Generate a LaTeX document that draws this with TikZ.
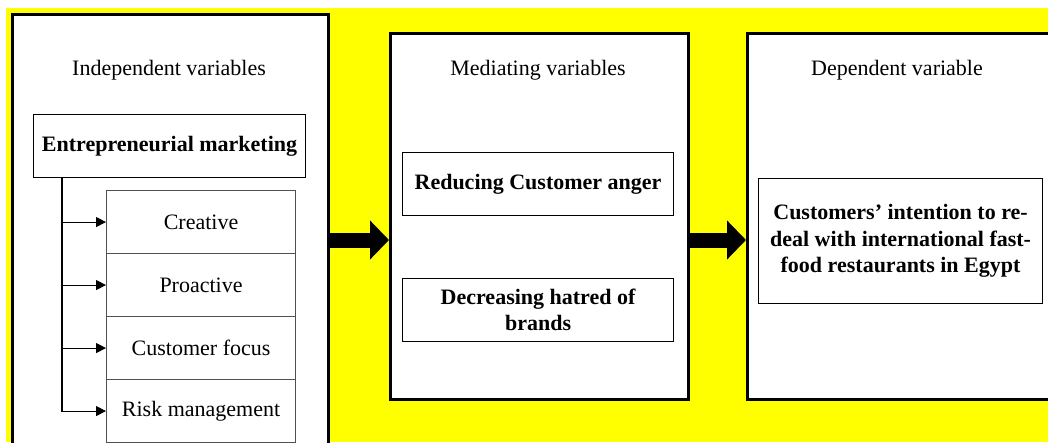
\documentclass[tikz,border=0pt]{standalone}
\usepackage{fontspec}
\setmainfont{Liberation Serif}
\usetikzlibrary{arrows.meta}
\definecolor{bgyellow}{RGB}{255,255,0}
\definecolor{subgray}{RGB}{80,80,80}
\begin{document}
\begin{tikzpicture}[x=1pt,y=-1pt,
  font=\fontsize{22}{26.5}\selectfont,
  outer/.style={draw=black,line width=3pt,fill=white,anchor=north west,inner sep=0pt},
  inbox/.style={draw=black,line width=1.1pt,fill=white,anchor=north west,inner sep=0pt,align=center,font=\fontsize{22}{26.5}\selectfont\bfseries},
  subbox/.style={draw=subgray,line width=1.1pt,fill=white,anchor=north west,inner sep=0pt,minimum width=189pt,minimum height=63pt},
  title/.style={inner sep=0pt},
  conn/.style={draw=black,line width=1.1pt},
  arr/.style={conn,-{Triangle[length=10pt,width=10pt]}},
  block/.style={draw=black,line width=15pt,-{Triangle[length=19pt,width=38pt]}}
]
\useasboundingbox (0,0) rectangle (1048,442);
\clip (0,0) rectangle (1048,442);
\fill[white] (0,0) rectangle (1048,442);
\fill[bgyellow] (6,8) rectangle (1048,442);

% outer panels
\node[outer,minimum width=316pt,minimum height=460pt] (indep) at (11,13) {};
\node[outer,minimum width=298pt,minimum height=366pt] (medi) at (389,32) {};
\node[outer,minimum width=304pt,minimum height=366pt] (dep) at (746,32) {};

% titles
\node[title] (t1) at (169,70) {Independent variables};
\node[title] (t2) at (538,70) {Mediating variables};
\node[title] (t3) at (897,70) {Dependent variable};

% independent
\node[inbox,minimum width=272pt,minimum height=63pt] (em) at (33,114) {Entrepreneurial marketing};
\node[subbox] (s1) at (106,190) {Creative};
\node[subbox] (s2) at (106,253) {Proactive};
\node[subbox] (s3) at (106,316) {Customer focus};
\node[subbox] (s4) at (106,379) {Risk management};

% mediating
\node[inbox,minimum width=271pt,minimum height=63pt] (m1) at (402,152) {Reducing Customer anger};
\node[inbox,minimum width=271pt,minimum height=63pt] (m2) at (402,278) {Decreasing hatred of\\brands};

% dependent
\node[inbox,minimum width=284pt,minimum height=125pt] (d1) at (758,178) {Customers’ intention to re-\\deal with international fast-\\food restaurants in Egypt};

% connectors
\coordinate (trunk) at ([xshift=29pt]em.south west);
\draw[arr] (trunk) |- (s4.west);
\draw[arr] (trunk |- s1.west) -- (s1.west);
\draw[arr] (trunk |- s2.west) -- (s2.west);
\draw[arr] (trunk |- s3.west) -- (s3.west);

\coordinate (ay) at (0,240);
\draw[block] (indep.east |- ay) -- (medi.west |- ay);
\draw[block] (medi.east |- ay) -- (dep.west |- ay);
\end{tikzpicture}
\end{document}
